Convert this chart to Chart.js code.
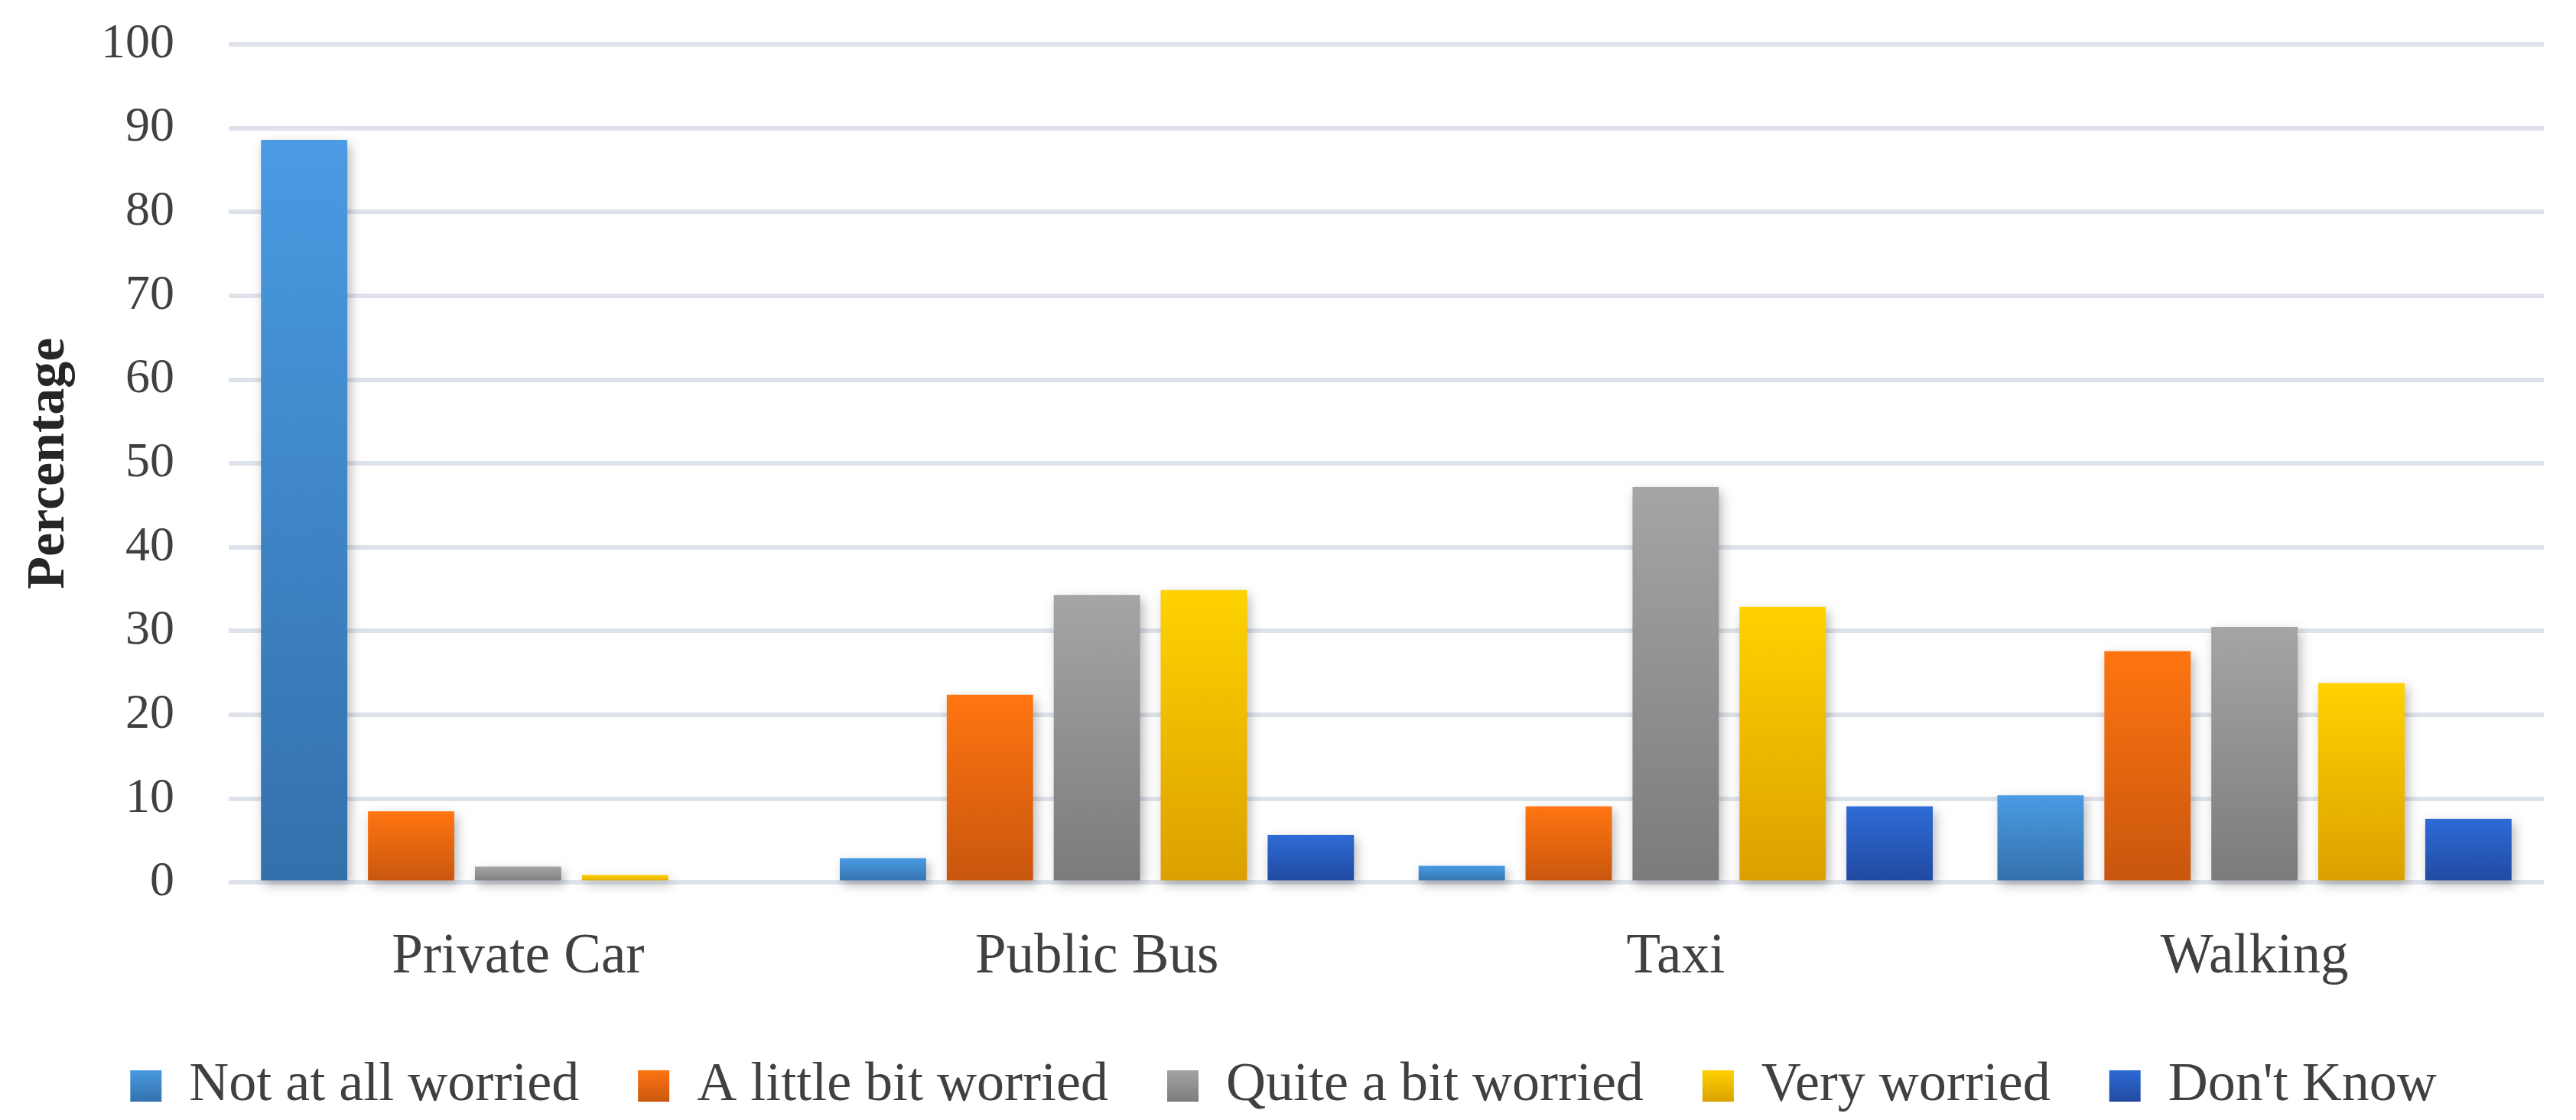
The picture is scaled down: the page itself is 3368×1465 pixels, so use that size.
<!DOCTYPE html>
<html lang="en">
<head>
  <meta charset="UTF-8" />
  <title>Worry by transport mode</title>
  <script src="https://cdn.jsdelivr.net/npm/chart.js"></script>
  <style>
    html, body {
      margin: 0;
      padding: 0;
      background: #ffffff;
    }
    #wrap {
      width: 3368px;
      height: 1465px;
    }
  </style>
</head>
<body>
  <div id="wrap">
    <canvas id="worryChart" width="3368" height="1465"></canvas>
  </div>

  <script>
    // categories and series (percentages)
    const modes = ["Private Car", "Public Bus", "Taxi", "Walking"];
    const seriesNames = ["Not at all worried", "A little bit worried", "Quite a bit worried", "Very worried", "Don't Know"];
    const notAtAll = [88.6, 2.9, 2.0, 10.4];
    const littleBit = [8.5, 22.4, 9.1, 27.6];
    const quiteABit = [1.9, 34.3, 47.2, 30.5];
    const veryWorried = [0.9, 34.9, 32.9, 23.8];
    const dontKnow = [0, 5.7, 9.1, 7.6];
    const yMin = 0, yMax = 100, yStep = 10;

    // top / bottom colours of each bar gradient
    const colours = [
      ["#4a9be3", "#3370ab"],
      ["#ff7511", "#c8560e"],
      ["#a5a5a5", "#7b7b7b"],
      ["#ffd200", "#dba000"],
      ["#2e6bd6", "#2149a0"]
    ];

    const serif = "'Liberation Serif', 'Times New Roman', serif";
    const textColour = "#404040";

    function barFill(i) {
      return function (ctx) {
        const top = colours[i][0], bottom = colours[i][1];
        const chart = ctx.chart;
        const y = chart.scales && chart.scales.y;
        if (!y || ctx.type !== "data" || !ctx.parsed) return top;
        const y0 = y.getPixelForValue(0);
        const y1 = y.getPixelForValue(ctx.parsed.y);
        if (!isFinite(y0) || !isFinite(y1) || y0 === y1) return top;
        const g = chart.ctx.createLinearGradient(0, y1, 0, y0);
        g.addColorStop(0, top);
        g.addColorStop(1, bottom);
        return g;
      };
    }

    // soft shadow round the bars, like the office chart style
    const barShadow = {
      id: "barShadow",
      beforeDatasetsDraw(chart) {
        const c = chart.ctx;
        c.save();
        c.shadowColor = "rgba(0,0,0,0.28)";
        c.shadowBlur = 14;
        c.shadowOffsetX = 4;
        c.shadowOffsetY = 6;
      },
      afterDatasetsDraw(chart) {
        chart.ctx.restore();
      }
    };

    // the legend row sits close under the axis labels; items keep a wide gap
    const legendPlace = {
      id: "legendPlace",
      afterLayout(chart) {
        const l = chart.legend;
        if (!l) return;
        const d = (l.top + l.bottom) / 2 - (chart.height - 78);
        l.top -= d;
        l.bottom -= d;
        l.left += 15;
        l.right += 15;
      },
      beforeDraw(chart) {
        const l = chart.legend;
        if (!l || !l.legendItems) return;
        l.legendItems.forEach((item, i) => {
          const b = l.legendHitBoxes[i];
          if (!b) return;
          const g = chart.ctx.createLinearGradient(0, b.top + 14, 0, b.top + b.height - 14);
          g.addColorStop(0, colours[i][0]);
          g.addColorStop(1, colours[i][1]);
          item.fillStyle = g;
        });
      }
    };

    const allValues = [notAtAll, littleBit, quiteABit, veryWorried, dontKnow];

    new Chart(document.getElementById("worryChart"), {
      type: "bar",
      data: {
        labels: modes,
        datasets: allValues.map((vals, i) => ({
          label: seriesNames[i],
          data: vals,
          backgroundColor: barFill(i),
          borderWidth: 0,
          categoryPercentage: 0.924,
          barPercentage: 0.807,
          clip: false
        }))
      },
      options: {
        responsive: false,
        devicePixelRatio: 1,
        animation: false,
        layout: {
          padding: { left: 0, right: 42, top: 58, bottom: -38 }
        },
        scales: {
          x: {
            grid: { display: false },
            border: { display: false },
            ticks: {
              color: textColour,
              padding: 47,
              font: { family: serif, size: 73 }
            }
          },
          y: {
            min: yMin,
            max: yMax,
            border: { display: false },
            grid: {
              color: "#dee2ea",
              lineWidth: 6,
              drawTicks: false
            },
            ticks: {
              stepSize: yStep,
              color: textColour,
              padding: 71,
              font: { family: serif, size: 64 }
            },
            title: {
              display: true,
              text: "Percentage",
              color: "#262626",
              padding: { top: 23, bottom: -46 },
              font: { family: serif, size: 70, weight: "bold" }
            },
            // tick padding is only wanted sideways, not above/below the plot
            afterFit(scale) {
              scale.paddingTop = 0;
              scale.paddingBottom = 0;
            }
          }
        },
        plugins: {
          tooltip: { enabled: false },
          legend: {
            position: "bottom",
            labels: {
              boxWidth: 41,
              boxHeight: 41,
              padding: 77,
              color: textColour,
              font: { family: serif, size: 72 },
              generateLabels(chart) {
                const items = Chart.defaults.plugins.legend.labels.generateLabels(chart);
                items.forEach((item, i) => {
                  item.fillStyle = colours[i][0];
                  item.strokeStyle = "rgba(0,0,0,0)";
                  item.lineWidth = 0;
                });
                return items;
              }
            }
          }
        }
      },
      plugins: [barShadow, legendPlace]
    });
  </script>
</body>
</html>
